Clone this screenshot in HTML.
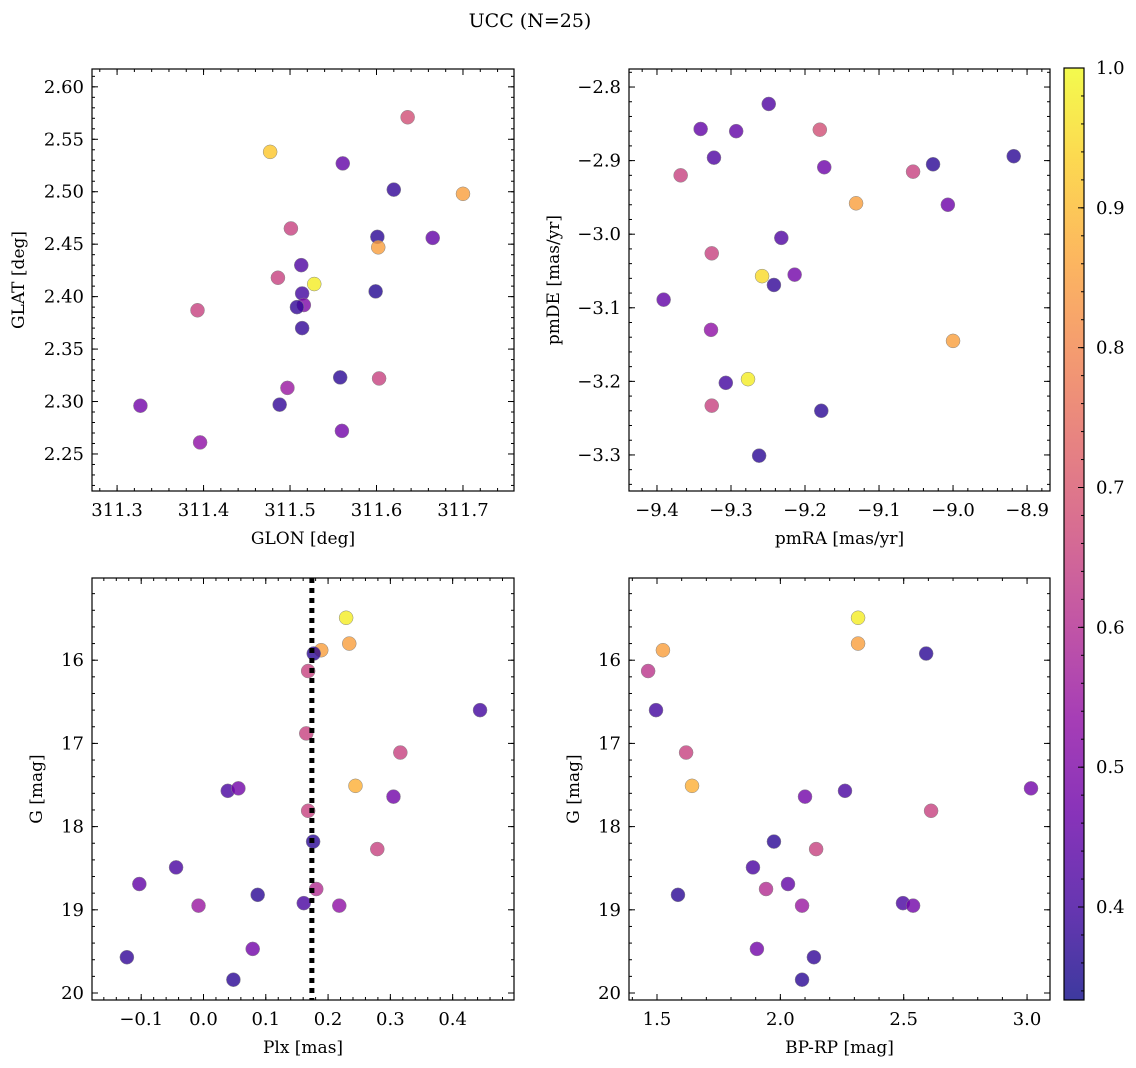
<!DOCTYPE html>
<html><head><meta charset="utf-8"><style>
html,body{margin:0;padding:0;background:#fff;}
svg{display:block;font-family:"DejaVu Serif","Liberation Serif",serif;}
</style></head><body>
<svg id="fig" width="1136" height="1068" xmlns="http://www.w3.org/2000/svg">
<text x="530" y="27" font-size="19" text-anchor="middle">UCC (N=25)</text>
</svg>
<script>
// Panel 1: GLON vs GLAT
const glonTL = [311.636,311.477,311.561,311.620,311.700,311.501,311.601,311.602,311.665,311.513,311.486,311.528,311.514,311.516,311.508,311.599,311.393,311.514,311.558,311.603,311.497,311.327,311.488,311.560,311.396];
const glatTL = [2.571,2.538,2.527,2.502,2.498,2.465,2.457,2.447,2.456,2.430,2.418,2.412,2.403,2.392,2.390,2.405,2.387,2.370,2.323,2.322,2.313,2.296,2.297,2.272,2.261];
const probTL = [0.68,0.92,0.45,0.38,0.85,0.65,0.37,0.85,0.45,0.42,0.65,0.98,0.40,0.50,0.38,0.36,0.65,0.38,0.37,0.65,0.55,0.48,0.38,0.48,0.53];
// Panel 2: pmRA vs pmDE
const pmraTR = [-9.249,-9.341,-9.180,-9.293,-9.323,-9.174,-9.027,-8.918,-9.368,-9.054,-9.131,-9.007,-9.232,-9.326,-9.214,-9.258,-9.242,-9.391,-9.327,-9.000,-9.277,-9.307,-9.326,-9.178,-9.262];
const pmdeTR = [-2.823,-2.857,-2.858,-2.860,-2.896,-2.909,-2.905,-2.894,-2.920,-2.915,-2.958,-2.960,-3.005,-3.026,-3.055,-3.057,-3.069,-3.089,-3.130,-3.145,-3.197,-3.202,-3.233,-3.240,-3.301];
const probTR = [0.42,0.45,0.68,0.45,0.42,0.47,0.37,0.37,0.65,0.65,0.85,0.47,0.42,0.65,0.48,0.95,0.38,0.45,0.53,0.85,0.98,0.40,0.65,0.37,0.37];
// Panel 3: Plx vs G
const plxBL = [0.229,0.234,0.189,0.177,0.168,0.444,0.165,0.316,0.039,0.056,0.244,0.305,0.168,0.176,0.279,-0.044,-0.103,0.181,0.087,0.161,-0.008,0.218,0.079,-0.123,0.048];
const gBL = [15.49,15.80,15.88,15.92,16.13,16.60,16.88,17.11,17.57,17.54,17.51,17.64,17.81,18.18,18.27,18.49,18.69,18.75,18.82,18.92,18.95,18.95,19.47,19.57,19.84];
const probBL = [0.98,0.85,0.85,0.37,0.65,0.40,0.65,0.65,0.41,0.48,0.88,0.48,0.65,0.37,0.65,0.41,0.45,0.60,0.37,0.41,0.55,0.53,0.48,0.38,0.37];
const plxLine = [0.174];
// Panel 4: BP-RP vs G
const bprpBR = [2.315,1.524,2.315,2.591,1.464,1.496,1.618,1.642,2.262,3.016,2.100,2.611,1.974,2.145,1.889,1.585,2.031,1.942,2.497,2.538,2.088,1.905,2.136,2.088];
const gBR = [15.49,15.88,15.80,15.92,16.13,16.60,17.11,17.51,17.57,17.54,17.64,17.81,18.18,18.27,18.49,18.82,18.69,18.75,18.92,18.95,18.95,19.47,19.57,19.84];
const probBR = [0.98,0.85,0.85,0.37,0.62,0.40,0.65,0.88,0.41,0.48,0.48,0.65,0.37,0.65,0.41,0.37,0.45,0.60,0.41,0.48,0.55,0.48,0.38,0.37];
const cbTicks = [0.4,0.5,0.6,0.7,0.8,0.9,1.0];
const cbRange = [0.3335,1.0];

const NS='http://www.w3.org/2000/svg';
const svg=document.getElementById('fig');
function mk(tag,attrs,parent){const e=document.createElementNS(NS,tag);for(const k in attrs)e.setAttribute(k,attrs[k]);(parent||svg).appendChild(e);return e;}
const plasma=[[13,8,135],[65,4,157],[106,0,168],[143,13,164],[177,42,144],[204,71,120],[225,100,98],[242,132,75],[252,166,54],[252,206,37],[240,249,33]];
function cmap(v){const t=Math.max(0,Math.min(1,(v-cbRange[0])/(cbRange[1]-cbRange[0])))*10;const i=Math.min(9,Math.floor(t));const f=t-i;const a=plasma[i],b=plasma[i+1];return 'rgb('+a.map((c,j)=>Math.round(c+(b[j]-c)*f)).join(',')+')';}
function fmt(v,d){const s=Math.abs(v).toFixed(d);return (v< -1e-9?'\u2212':'')+s;}

function panel(o){
  const g=mk('g',{});
  
  
  const X=v=>o.x0+(v-o.xr[0])/(o.xr[1]-o.xr[0])*(o.x1-o.x0);
  const Y=o.inv? v=>o.y0+(v-o.yr[0])/(o.yr[1]-o.yr[0])*(o.y1-o.y0) : v=>o.y1-(v-o.yr[0])/(o.yr[1]-o.yr[0])*(o.y1-o.y0);
  for(let i=0;i<o.xs.length;i++){
    const c=mk('circle',{cx:X(o.xs[i]),cy:Y(o.ys[i]),r:7,fill:cmap(o.ps[i]),'fill-opacity':0.8,stroke:'#888','stroke-width':0.5},g);
    
    
  }
  if(o.vline){const l=mk('line',{x1:X(o.vline),x2:X(o.vline),y1:o.y0,y2:o.y1,stroke:'#000','stroke-width':5,'stroke-dasharray':'5,5'},g);
    
    }
  const fr=mk('rect',{x:o.x0,y:o.y0,width:o.x1-o.x0,height:o.y1-o.y0,fill:'none',stroke:'#000','stroke-width':1.2},g);
  
  
  function ticks(r,step){const a=[];let s=Math.ceil(r[0]/step-1e-6);for(let k=s;k*step<=r[1]+1e-9;k++)a.push(k*step);return a;}
  ticks(o.xr,o.xminor).forEach(v=>{const x=X(v);mk('line',{x1:x,x2:x,y1:o.y1,y2:o.y1-3,stroke:'#000'},g);mk('line',{x1:x,x2:x,y1:o.y0,y2:o.y0+3,stroke:'#000'},g);});
  ticks(o.yr,o.yminor).forEach(v=>{const y=Y(v);mk('line',{x1:o.x0,x2:o.x0+3,y1:y,y2:y,stroke:'#000'},g);mk('line',{x1:o.x1,x2:o.x1-3,y1:y,y2:y,stroke:'#000'},g);});
  ticks(o.xr,o.xmajor).forEach(v=>{const x=X(v);mk('line',{x1:x,x2:x,y1:o.y1,y2:o.y1-6,stroke:'#000'},g);mk('line',{x1:x,x2:x,y1:o.y0,y2:o.y0+6,stroke:'#000'},g);
    const t=mk('text',{x:x,y:o.y1+25,'font-size':18,'text-anchor':'middle'},g);t.textContent=fmt(v,o.xd);
    
    });
  ticks(o.yr,o.ymajor).forEach(v=>{const y=Y(v);mk('line',{x1:o.x0,x2:o.x0+6,y1:y,y2:y,stroke:'#000'},g);mk('line',{x1:o.x1,x2:o.x1-6,y1:y,y2:y,stroke:'#000'},g);
    const t=mk('text',{x:o.x0-8,y:y+6,'font-size':18,'text-anchor':'end'},g);t.textContent=fmt(v,o.yd);
    
    });
  const xl=mk('text',{x:(o.x0+o.x1)/2,y:o.y1+53,'font-size':17,'text-anchor':'middle'},g);xl.textContent=o.xlabel;
  
  
  const yc=(o.y0+o.y1)/2;
  const yl=mk('text',{x:o.ylx,y:yc,'font-size':17,'text-anchor':'middle',transform:'rotate(-90 '+o.ylx+' '+yc+')'},g);yl.textContent=o.ylabel;
  
  
}
panel({name:'glon-glat-panel',x0:92,x1:514,y0:69,y1:491,xr:[311.271,311.759],yr:[2.2147,2.617],xs:glonTL,ys:glatTL,ps:probTL,xmajor:0.1,xminor:0.02,ymajor:0.05,yminor:0.01,xd:1,yd:2,xlabel:'GLON [deg]',ylabel:'GLAT [deg]',ylx:24});
panel({name:'proper-motion-panel',x0:629,x1:1050,y0:69,y1:491,xr:[-9.4378,-8.869],yr:[-3.349,-2.7755],xs:pmraTR,ys:pmdeTR,ps:probTR,xmajor:0.1,xminor:0.02,ymajor:0.1,yminor:0.02,xd:1,yd:1,xlabel:'pmRA [mas/yr]',ylabel:'pmDE [mas/yr]',ylx:559});
panel({name:'plx-g-panel',x0:92,x1:514,y0:578,y1:1000,xr:[-0.179,0.4985],yr:[15.012,20.084],inv:true,xs:plxBL,ys:gBL,ps:probBL,vline:plxLine[0],xmajor:0.1,xminor:0.02,ymajor:1,yminor:0.2,xd:1,yd:0,xlabel:'Plx [mas]',ylabel:'G [mag]',ylx:42});
panel({name:'color-magnitude-panel',x0:629,x1:1050,y0:578,y1:1000,xr:[1.3865,3.093],yr:[15.012,20.084],inv:true,xs:bprpBR,ys:gBR,ps:probBR,xmajor:0.5,xminor:0.1,ymajor:1,yminor:0.2,xd:1,yd:0,xlabel:'BP-RP [mag]',ylabel:'G [mag]',ylx:579});

const cb=mk('g',{});


const defs=mk('defs',{},cb);
const lg=mk('linearGradient',{id:'cbg',x1:0,y1:1,x2:0,y2:0},defs);
for(let i=0;i<=20;i++){const v=cbRange[0]+(cbRange[1]-cbRange[0])*i/20;mk('stop',{offset:i/20,'stop-color':cmap(v),'stop-opacity':0.8},lg);}
const cy0=68,cy1=1000,cx0=1064,cx1=1084;
const CY=v=>cy1-(v-cbRange[0])/(cbRange[1]-cbRange[0])*(cy1-cy0);
mk('rect',{x:cx0,y:cy0,width:cx1-cx0,height:cy1-cy0,fill:'url(#cbg)',stroke:'#000','stroke-width':1.2},cb);
for(let k=17;k<=50;k++){const v=k*0.02;if(v<cbRange[0]||v>cbRange[1]+1e-9)continue;const y=CY(v);mk('line',{x1:cx1,x2:cx1-3,y1:y,y2:y,stroke:'#000'},cb);}
cbTicks.forEach(v=>{const y=CY(v);mk('line',{x1:cx1,x2:cx1-6,y1:y,y2:y,stroke:'#000'},cb);
  const t=mk('text',{x:1096,y:y+6,'font-size':18},cb);t.textContent=v.toFixed(1);
  
  });
</script>
</body></html>
